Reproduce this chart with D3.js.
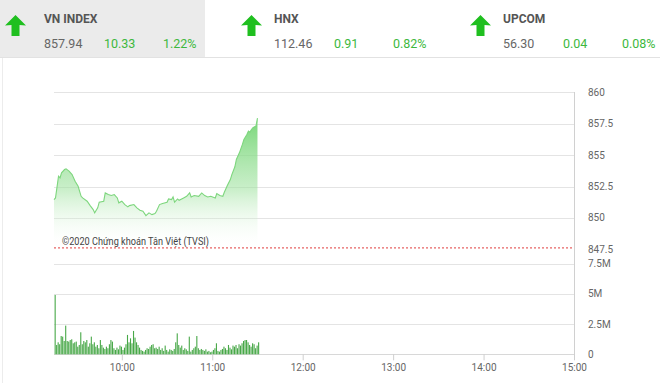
<!DOCTYPE html>
<html><head><meta charset="utf-8">
<script src="https://cdn.jsdelivr.net/npm/d3@7"></script>
<style>
html,body{margin:0;padding:0;background:#fff;}
svg{display:block;font-family:Roboto,"Noto Sans",sans-serif;}
</style></head>
<body>
<svg id="c" width="660" height="383"></svg>
<script>
// ---- data ----
const indexNames = ["VN INDEX", "HNX", "UPCOM"];
const indexValues = ["857.94", "112.46", "56.30"];
const indexChanges = ["10.33", "0.91", "0.04"];
const indexPercents = ["1.22%", "0.82%", "0.08%"];

const priceTimes = ["09:15","09:16","09:18","09:19","09:20","09:22","09:23","09:25","09:27","09:29","09:31","09:33","09:34","09:37","09:39","09:41","09:42","09:44","09:45","09:48","09:49","09:51","09:53","09:55","09:57","09:58","10:00","10:02","10:04","10:05","10:08","10:10","10:12","10:14","10:16","10:18","10:20","10:22","10:23","10:25","10:27","10:30","10:31","10:33","10:34","10:35","10:37","10:38","10:41","10:43","10:45","10:46","10:48","10:51","10:53","10:55","10:57","10:59","11:02","11:03","11:05","11:07","11:08","11:10","11:12","11:13","11:15","11:16","11:18","11:20","11:21","11:23","11:24","11:25","11:26","11:27","11:29","11:30"];
const priceValues = [851.46,851.59,853.32,853.19,853.59,853.85,853.91,853.72,853.45,852.92,852.52,851.72,851.59,851.33,850.98,850.66,850.40,850.80,851.25,851.33,851.99,851.86,851.78,851.86,851.59,851.20,851.33,851.06,850.88,850.98,851.06,850.80,850.61,850.53,850.18,850.40,850.26,850.34,850.53,851.06,851.14,851.25,851.51,851.46,851.67,851.25,851.51,851.40,851.59,851.72,851.99,851.67,851.78,851.72,851.99,851.78,851.67,851.72,851.59,851.94,851.78,851.72,852.04,852.58,853.05,853.45,854.07,854.65,855.18,855.85,856.24,856.64,856.91,856.83,857.04,857.18,857.31,857.94];
const referenceLevel = 847.61;

// volume in millions, one bar per minute from 09:15
const volumeStart = "09:15";
const volumeValues = [4.90,0.77,0.99,0.83,1.51,1.46,1.10,2.37,1.10,1.05,
1.18,1.24,0.91,0.99,1.05,0.63,0.77,1.82,0.83,1.10,
0.99,1.18,0.63,0.91,1.46,0.83,0.99,0.63,0.77,0.50,
1.18,0.77,0.55,0.44,0.63,0.50,0.83,1.18,1.05,0.50,
0.36,0.55,0.41,0.72,0.63,0.36,0.55,0.83,1.60,0.99,
1.32,0.91,1.93,1.38,0.99,0.77,0.55,0.36,0.28,0.22,
0.36,0.50,0.44,0.63,0.77,0.83,0.50,0.55,0.44,0.63,
0.36,0.50,0.28,0.72,0.36,0.22,0.41,0.36,0.28,0.44,
0.99,1.73,0.77,0.55,0.72,0.36,0.50,0.41,0.28,1.46,
0.22,0.36,0.50,0.63,1.51,0.50,0.36,0.44,0.36,0.28,
0.41,0.22,0.28,0.17,0.22,0.36,0.50,0.91,0.28,0.22,
0.36,0.44,0.63,0.50,0.36,0.77,0.55,0.41,0.72,0.63,
0.77,0.50,0.83,0.72,0.91,1.10,1.18,1.18,0.99,0.77,
0.63,0.91,0.83,0.50,0.72,0.99];

const priceTicks = [847.5, 850, 852.5, 855, 857.5, 860];
const volumeTicks = [0, 2.5, 5, 7.5];
const timeTicks = ["10:00","11:00","12:00","13:00","14:00","15:00"];
const copyright = "©2020 Chứng khoán Tân Việt (TVSI)";

// ---- helpers ----
const parseT = d3.timeParse("%Y-%m-%d %H:%M");
const T = s => parseT("2020-06-01 " + s);

const svg = d3.select("#c");

// header
svg.append("rect").attr("x",0).attr("y",0).attr("width",205).attr("height",57).attr("fill","#ebebeb");
svg.append("line").attr("x1",0).attr("x2",660).attr("y1",57.5).attr("y2",57.5).attr("stroke","#e2e2e2");
svg.append("line").attr("x1",2.5).attr("x2",2.5).attr("y1",58).attr("y2",383).attr("stroke","#ececec");

const hx = [0, 230, 460];
indexNames.forEach((n,i)=>{
  const g = svg.append("g").attr("transform",`translate(${hx[i]},0)`);
  const ox = i===0 ? 0 : (i===1 ? 6 : 5);
  g.append("path")
    .attr("d",`M${15.5+ox} 15 L${26+ox} 25.5 L${19.5+ox} 25 L${19.5+ox} 36 L${11.5+ox} 36 L${11.5+ox} 25 L${5+ox} 25.5 Z`)
    .attr("fill","#1fbf1f");
  const tx = i===0 ? 44 : (i===1 ? 44 : 43);
  g.append("text").attr("x",tx).attr("y",23).attr("font-size",12).attr("font-weight","bold").attr("fill","#555").text(n);
  g.append("text").attr("x",tx).attr("y",48).attr("font-size",12.5).attr("fill","#666").text(indexValues[i]);
  g.append("text").attr("x",tx+60).attr("y",48).attr("font-size",12.5).attr("fill","#3db83d").text(indexChanges[i]);
  g.append("text").attr("x",tx+119).attr("y",48).attr("font-size",12.5).attr("fill","#3db83d").text(indexPercents[i]);
});

// scales
const x = d3.scaleTime().domain([T("09:15"), T("15:00")]).range([54, 574]);
const yP = d3.scaleLinear().domain([847.5, 860]).range([249.3, 92.3]);
const yV = d3.scaleLinear().domain([0, 7.5]).range([354.3, 263.5]);

const price = priceTimes.map((t,i)=>({t:T(t), v:priceValues[i]}));
const v0 = T(volumeStart);
const vols = volumeValues.map((v,i)=>({t:d3.timeMinute.offset(v0,i), v}));

// gridlines
svg.append("g").selectAll("line").data(priceTicks.filter(d=>d>847.5)).join("line")
  .attr("x1",54).attr("x2",574).attr("y1",d=>Math.round(yP(d))+0.5).attr("y2",d=>Math.round(yP(d))+0.5)
  .attr("stroke","#e4e4e4");
svg.append("g").selectAll("line").data(volumeTicks).join("line")
  .attr("x1",54).attr("x2",574).attr("y1",d=>Math.round(yV(d))+0.5).attr("y2",d=>Math.round(yV(d))+0.5)
  .attr("stroke",d=>d===0?"#d8d8d8":"#e4e4e4");

// area gradient
const defs = svg.append("defs");
const gr = defs.append("linearGradient").attr("id","ag").attr("gradientUnits","userSpaceOnUse")
  .attr("x1",0).attr("x2",0).attr("y1",yP(858)).attr("y2",yP(847.5));
gr.append("stop").attr("offset",0).attr("stop-color","#6fd46f").attr("stop-opacity",0.95);
gr.append("stop").attr("offset",0.55).attr("stop-color","#9fe29f").attr("stop-opacity",0.55);
gr.append("stop").attr("offset",1).attr("stop-color","#ffffff").attr("stop-opacity",0);

const area = d3.area().x(d=>x(d.t)).y0(yP(847.5)).y1(d=>yP(d.v));
svg.append("path").datum(price).attr("d",area).attr("fill","url(#ag)");
const line = d3.line().x(d=>x(d.t)).y(d=>yP(d.v));
svg.append("path").datum(price).attr("d",line).attr("fill","none").attr("stroke","#7dd67d").attr("stroke-width",1.1);

// reference dashed line
svg.append("line").attr("x1",54).attr("x2",574).attr("y1",yP(referenceLevel)).attr("y2",yP(referenceLevel))
  .attr("stroke","#e03c3c").attr("stroke-dasharray","2,2").attr("stroke-width",1);

// copyright
svg.append("text").attr("x",62).attr("y",245).attr("font-size",10.5).attr("fill","#444")
  .attr("textLength",147).attr("lengthAdjust","spacingAndGlyphs").text(copyright);

// volume bars
svg.append("g").selectAll("rect").data(vols).join("rect")
  .attr("x",d=>x(d.t)+0.6).attr("width",1.1)
  .attr("y",d=>yV(d.v)).attr("height",d=>yV(0)-yV(d.v))
  .attr("fill","#48a848");

// right border
svg.append("line").attr("x1",574.5).attr("x2",574.5).attr("y1",92).attr("y2",355).attr("stroke","#d0d0d0");

// y labels
svg.append("g").selectAll("text").data(priceTicks).join("text")
  .attr("x",588).attr("y",d=>yP(d)+3.5).attr("font-size",10).attr("fill","#666")
  .text(d=>d3.format("")(d));
svg.append("g").selectAll("text").data(volumeTicks).join("text")
  .attr("x",588).attr("y",d=>yV(d)+3.5).attr("font-size",10).attr("fill","#666")
  .text(d=>d===0?"0":d+"M");

// x axis
const xa = d3.axisBottom(x).tickValues(timeTicks.map(T)).tickFormat(d3.timeFormat("%H:%M")).tickSize(6).tickPadding(4);
const gx = svg.append("g").attr("transform",`translate(0,${yV(0)})`).call(xa);
gx.select(".domain").remove();
gx.selectAll(".tick line").attr("stroke","#cfcfcf");
gx.selectAll(".tick text").attr("fill","#666").attr("font-size",10).attr("font-family","Roboto,sans-serif");
</script>
</body></html>
